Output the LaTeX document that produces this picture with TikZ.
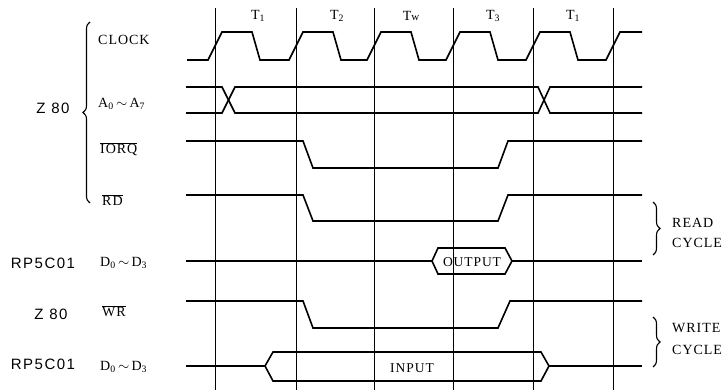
\documentclass[tikz,border=0pt]{standalone}
\usepackage{fontspec}
\setmainfont{Liberation Serif}[LetterSpace=7]
\newfontfamily\labsans{Liberation Sans}[LetterSpace=10]
\usetikzlibrary{decorations.pathreplacing}
\begin{document}
\begin{tikzpicture}[x=1pt,y=-1pt,
  sig/.style={line width=1.6pt, line join=miter},
  gridline/.style={line width=0.7pt},
  lab/.style={font=\fontsize{14}{16}\selectfont, inner sep=0pt, anchor=west},
  tlab/.style={font=\fontsize{14}{16}\selectfont, inner sep=0pt},
  hexlab/.style={font=\fontsize{13.5}{15}\selectfont, inner sep=0pt},
  chip/.style={font=\labsans\fontsize{15}{17}\selectfont, inner sep=0pt},
  brc/.style={decorate, decoration={brace, amplitude=7pt}, line width=1.1pt}]
\useasboundingbox (0,0) rectangle (726,390);

% period grid
\foreach \v in {215,296,374,453,533,613} \draw[gridline] (\v,8) -- (\v,390);

% period labels
\node[tlab] (t1a) at (258,16) {T\textsubscript{1}};
\node[tlab] (t2)  at (337,16) {T\textsubscript{2}};
\node[tlab] (tw)  at (411,16) {T{\fontsize{11}{12}\selectfont w}};
\node[tlab] (t3)  at (493,16) {T\textsubscript{3}};
\node[tlab] (t1b) at (573,16) {T\textsubscript{1}};

% clock
\draw[sig] (187,60) foreach \v in {215,296,374,453,533} { -- ({\v-7},60) -- ({\v+7},32) -- ({\v+37},32) -- ({\v+45},60) } -- (606,60) -- (620,32) -- (642,32);

% address bus
\draw[sig] (186,87) -- (222,87) -- (235,113) -- (538,113) -- (550,87) -- (642,87);
\draw[sig] (186,113) -- (222,113) -- (235,87) -- (538,87) -- (550,113) -- (642,113);

% IORQ
\draw[sig] (186,141) -- (303,141) -- (313,168) -- (498,168) -- (508,141) -- (642,141);
% RD
\draw[sig] (186,195) -- (303,195) -- (313,221) -- (498,221) -- (508,195) -- (642,195);
% data read
\draw[sig] (186,261) -- (432,261);
\draw[sig] (432,261) -- (438,248) -- (505,248) -- (512,261) -- (505,274) -- (438,274) -- cycle;
\draw[sig] (512,261) -- (642,261);
\node[hexlab] (outp) at (472,262) {OUTPUT};
% WR
\draw[sig] (186,301) -- (303,301) -- (313,328) -- (498,328) -- (510,301) -- (642,301);
% data write
\draw[sig] (186,366) -- (265,366);
\draw[sig] (265,366) -- (273,352) -- (541,352) -- (549,366) -- (541,381) -- (273,381) -- cycle;
\draw[sig] (549,366) -- (642,366);
\node[hexlab] (inp) at (412,368) {INPUT};

% signal labels
\node[lab] (clk) at (98,40) {CLOCK};
\node[lab] (addr) at (98,104) {A\textsubscript{0}\,$\sim$\,A\textsubscript{7}};
\node[lab] (iorq) at (100,149) {$\overline{\hbox{IORQ}}$};
\node[lab] (rd) at (102,200) {$\overline{\hbox{RD}}$};
\node[lab] (dr) at (100,263) {D\textsubscript{0}\,$\sim$\,D\textsubscript{3}};
\node[lab] (wr) at (102,311) {$\overline{\hbox{WR}}$};
\node[lab] (dw) at (100,367) {D\textsubscript{0}\,$\sim$\,D\textsubscript{3}};

% chip labels
\node[chip] (z80a) at (53,108) {Z 80};
\node[chip] (rpa) at (43,263) {RP5C01};
\node[chip] (z80b) at (51,314) {Z 80};
\node[chip] (rpb) at (43,364) {RP5C01};

% braces
\draw[brc] (90,203) -- (90,22);
\draw[brc] (653,202) -- (653,255);
\draw[brc] (653,317) -- (653,367);
\node[lab] (read) at (672,223) {READ};
\node[lab] (cyr) at (672,243) {CYCLE};
\node[lab] (write) at (672,328) {WRITE};
\node[lab] (cyw) at (672,350) {CYCLE};
\end{tikzpicture}
\end{document}
